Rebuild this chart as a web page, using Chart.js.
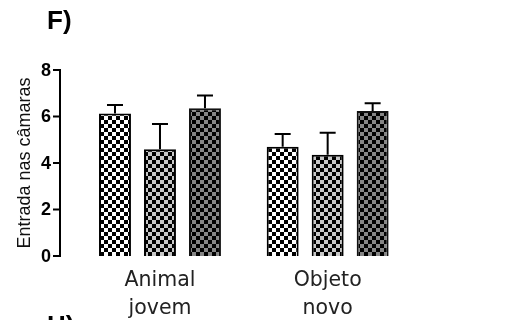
<!DOCTYPE html>
<html>
<head>
<meta charset="utf-8">
<script src="https://cdn.jsdelivr.net/npm/chart.js@4"></script>
<style>
    body { margin: 0; background: #fff; }
</style>
</head>
<body>
<canvas id="chart" width="515" height="320"></canvas>
<script>
// Data
const categories = [['Animal', 'jovem'], ['Objeto', 'novo']];
const serie1 = [6.13, 4.70];
const serie1Err = [0.37, 0.55];
const serie2 = [4.59, 4.36];
const serie2Err = [1.09, 0.94];
const serie3 = [6.35, 6.24];
const serie3Err = [0.55, 0.33];
const yTicks = [0, 2, 4, 6, 8];
const yTitle = 'Entrada nas câmaras';
const panelLabel = 'F)';
const nextPanelLabel = 'H)';

// checkerboard fill for the bars
function checker(light, dark, size) {
    const tile = document.createElement('canvas');
    tile.width = size * 2;
    tile.height = size * 2;
    const c = tile.getContext('2d');
    c.fillStyle = light;
    c.fillRect(0, 0, size * 2, size * 2);
    c.fillStyle = dark;
    c.fillRect(0, 0, size, size);
    c.fillRect(size, size, size, size);
    return document.getElementById('chart').getContext('2d').createPattern(tile, 'repeat');
}

const errors = [serie1Err, serie2Err, serie3Err];

// upper error bars only
const errorBars = {
    id: 'errorBars',
    afterDatasetsDraw(chart) {
        const ctx = chart.ctx;
        const y = chart.scales.y;
        ctx.save();
        ctx.strokeStyle = '#000';
        ctx.lineWidth = 2;
        chart.data.datasets.forEach((ds, di) => {
            chart.getDatasetMeta(di).data.forEach((bar, i) => {
                const top = y.getPixelForValue(ds.data[i] + errors[di][i]);
                ctx.beginPath();
                ctx.moveTo(bar.x, bar.y);
                ctx.lineTo(bar.x, top);
                ctx.moveTo(bar.x - 8, top);
                ctx.lineTo(bar.x + 8, top);
                ctx.stroke();
            });
        });
        ctx.restore();
    }
};

// y axis line, tick marks and tick labels drawn left of the plot area, plus panel letters
const axisAndLabels = {
    id: 'axisAndLabels',
    afterDraw(chart) {
        const ctx = chart.ctx;
        const y = chart.scales.y;
        const axisX = 60;
        ctx.save();
        ctx.strokeStyle = '#000';
        ctx.lineWidth = 2;
        ctx.beginPath();
        ctx.moveTo(axisX, y.getPixelForValue(8) - 1);
        ctx.lineTo(axisX, y.getPixelForValue(0) + 1);
        yTicks.forEach(t => {
            const py = y.getPixelForValue(t);
            ctx.moveTo(axisX - 7, py);
            ctx.lineTo(axisX, py);
        });
        ctx.stroke();

        ctx.fillStyle = '#000';
        ctx.font = 'bold 18px Arial, sans-serif';
        ctx.textAlign = 'right';
        ctx.textBaseline = 'middle';
        yTicks.forEach(t => {
            ctx.fillText(String(t), 51, y.getPixelForValue(t) + 1);
        });

        ctx.textAlign = 'left';
        ctx.font = 'bold 26px Arial, sans-serif';
        ctx.textBaseline = 'alphabetic';
        ctx.fillText(panelLabel, 47, 29);
        ctx.fillText(nextPanelLabel, 47, 334);
        ctx.restore();
    }
};

new Chart(document.getElementById('chart'), {
    type: 'bar',
    data: {
        labels: categories,
        datasets: [
            { data: serie1, backgroundColor: checker('#ffffff', '#000000', 4), borderColor: '#000', borderWidth: 2 },
            { data: serie2, backgroundColor: checker('#c8c8c8', '#000000', 4), borderColor: '#000', borderWidth: 2 },
            { data: serie3, backgroundColor: checker('#858585', '#000000', 4), borderColor: '#111', borderWidth: 2 }
        ]
    },
    options: {
        responsive: false,
        animation: false,
        layout: { padding: { left: 0, right: 103.5, top: 70, bottom: 0 } },
        plugins: { legend: { display: false }, tooltip: { enabled: false } },
        datasets: { bar: { categoryPercentage: 0.805, barPercentage: 0.71 } },
        scales: {
            x: {
                grid: { display: false, drawTicks: false },
                border: { display: false },
                ticks: {
                    padding: 11,
                    color: '#222',
                    font: { family: '"DejaVu Sans", Verdana, sans-serif', size: 20.5, lineHeight: 1.36 }
                },
                afterFit(scale) { scale.height = 64; }
            },
            y: {
                min: 0,
                max: 8,
                grid: { display: false, drawTicks: false },
                border: { display: false },
                ticks: { display: false, stepSize: 2 },
                title: {
                    display: true,
                    text: yTitle,
                    color: '#111',
                    padding: { top: 14, bottom: 0 },
                    font: { family: 'Arial, sans-serif', size: 18 }
                },
                afterFit(scale) { scale.width = 76.15; }
            }
        }
    },
    plugins: [errorBars, axisAndLabels]
});
</script>
</body>
</html>
